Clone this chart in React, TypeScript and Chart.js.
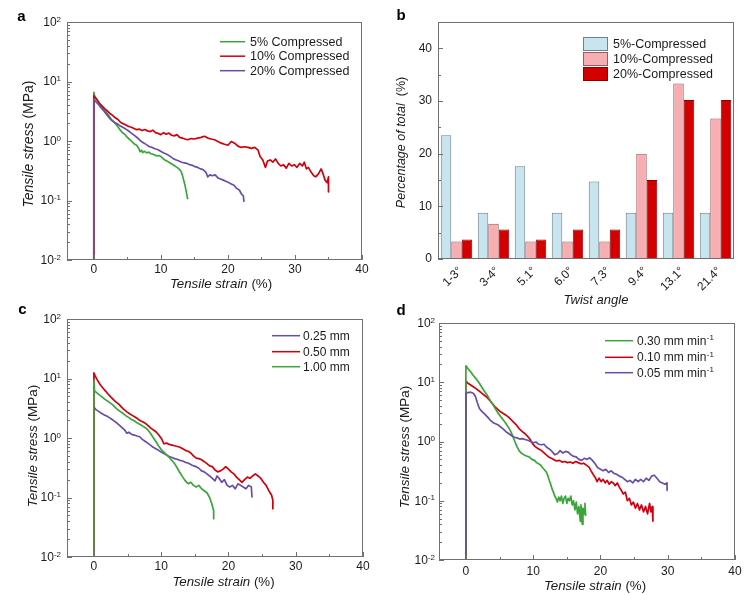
import React, { useEffect, useRef } from 'react';
import { Chart, registerables } from 'chart.js';

Chart.register(...registerables);

const FONT = '"Liberation Sans", Arial, Helvetica, sans-serif';
const TEXT = '#1b1b1b';
const AXIS = '#707070';
const GREEN = '#3aa63a';
const RED = '#d2000c';
const PURPLE = '#6a4ea6';

type Pt = [number, number];

// ---------- Panel a: compression ----------
const A_5: Pt[] = [[0,0.008],[0,6.6],[0.1,5.6],[0.3,5.3],[0.6,4.7],[1.0,4.1],[1.4,3.6],[1.8,3.1],[2.2,2.7],[2.6,2.3],[3.0,2.1],[3.4,1.85],[3.8,1.6],[4.2,1.4],[4.6,1.3],[5.0,1.15],[5.4,1.05],[5.8,0.95],[6.1,0.88],[6.4,0.85],[6.7,0.75],[6.9,0.66],[7.1,0.7],[7.3,0.64],[7.6,0.67],[7.9,0.63],[8.2,0.65],[8.5,0.61],[8.8,0.6],[9.1,0.58],[9.4,0.56],[9.7,0.57],[10.0,0.55],[10.3,0.51],[10.6,0.48],[10.9,0.46],[11.2,0.44],[11.5,0.42],[11.8,0.4],[12.1,0.38],[12.4,0.36],[12.7,0.34],[13.0,0.31],[13.2,0.27],[13.4,0.22],[13.6,0.18],[13.8,0.14],[14.0,0.105]];
const A_10: Pt[] = [[0,0.008],[0,5.8],[0.2,5.4],[0.5,4.9],[0.8,4.3],[1.2,3.9],[1.6,3.5],[2.0,3.2],[2.4,2.9],[2.8,2.7],[3.2,2.45],[3.6,2.3],[4.0,2.05],[4.4,1.95],[4.8,1.85],[5.2,1.75],[5.6,1.7],[6.0,1.62],[6.4,1.55],[6.8,1.58],[7.2,1.5],[7.6,1.56],[8.0,1.48],[8.4,1.44],[8.8,1.52],[9.2,1.38],[9.6,1.34],[10.0,1.28],[10.4,1.38],[10.8,1.3],[11.2,1.36],[11.6,1.25],[12.0,1.22],[12.4,1.28],[12.8,1.15],[13.2,1.12],[13.6,1.08],[14.0,1.05],[14.5,1.1],[15.0,1.08],[15.5,1.12],[16.0,1.15],[16.5,1.2],[17.0,1.12],[17.5,1.08],[18.0,1.05],[18.5,0.98],[19.0,0.92],[19.5,0.88],[20.0,0.85],[20.5,0.98],[21.0,0.92],[21.5,0.82],[22.0,0.78],[22.5,0.8],[23.0,0.78],[23.5,0.75],[24.0,0.78],[24.5,0.7],[24.8,0.55],[25.2,0.48],[25.6,0.36],[25.9,0.46],[26.3,0.48],[26.7,0.44],[27.1,0.5],[27.5,0.42],[27.9,0.38],[28.3,0.4],[28.7,0.35],[29.1,0.42],[29.5,0.38],[29.9,0.4],[30.3,0.36],[30.7,0.42],[31.1,0.38],[31.4,0.44],[31.7,0.34],[32.0,0.36],[32.4,0.3],[32.8,0.26],[33.1,0.25],[33.5,0.28],[33.9,0.34],[34.2,0.28],[34.5,0.22],[34.8,0.2],[35.0,0.25],[35.0,0.14]];
const A_20: Pt[] = [[0,0.008],[0,5.1],[0.3,4.6],[0.7,4.1],[1.1,3.6],[1.5,3.2],[1.9,2.8],[2.3,2.45],[2.7,2.2],[3.1,2.05],[3.5,1.95],[3.9,1.8],[4.3,1.7],[4.7,1.6],[5.1,1.5],[5.5,1.38],[5.9,1.28],[6.3,1.18],[6.7,1.08],[7.1,0.98],[7.5,0.92],[7.9,0.86],[8.3,0.8],[8.7,0.78],[9.1,0.74],[9.5,0.72],[9.9,0.68],[10.3,0.64],[10.7,0.61],[11.1,0.58],[11.5,0.54],[11.9,0.5],[12.3,0.48],[12.7,0.46],[13.1,0.44],[13.5,0.43],[13.9,0.42],[14.3,0.4],[14.7,0.39],[15.1,0.37],[15.5,0.36],[15.9,0.34],[16.3,0.33],[16.7,0.3],[17.0,0.25],[17.3,0.27],[17.7,0.26],[18.1,0.27],[18.5,0.24],[18.9,0.23],[19.3,0.22],[19.7,0.21],[20.1,0.2],[20.5,0.19],[20.9,0.18],[21.3,0.16],[21.7,0.15],[22.0,0.13],[22.3,0.12],[22.4,0.095]];

// ---------- Panel b: twist angle histogram ----------
const B_CATS = ['1-3°', '3-4°', '5.1°', '6.0°', '7.3°', '9.4°', '13.1°', '21.4°'];
const B_5 = [23.5, 8.8, 17.6, 8.8, 14.7, 8.8, 8.8, 8.8];
const B_10 = [3.3, 6.7, 3.3, 3.3, 3.3, 20.0, 33.3, 26.7];
const B_20 = [3.7, 5.6, 3.7, 5.6, 5.6, 15.0, 30.2, 30.2];
const B_Y_TICKS = [0, 10, 20, 30, 40];
const B_Y_MINOR = [5, 15, 25, 35];

// ---------- Panel c: thickness ----------
const C_025: Pt[] = [[0,0.008],[0,3.3],[0.3,3.0],[0.7,2.8],[1.1,2.6],[1.5,2.45],[1.9,2.35],[2.3,2.2],[2.7,2.05],[3.1,1.9],[3.5,1.75],[3.9,1.6],[4.3,1.45],[4.6,1.35],[4.9,1.2],[5.2,1.25],[5.6,1.15],[6.0,1.12],[6.4,1.08],[6.8,1.05],[7.2,0.95],[7.6,0.88],[8.0,0.82],[8.4,0.76],[8.8,0.7],[9.2,0.66],[9.6,0.62],[10.0,0.58],[10.4,0.55],[10.8,0.52],[11.2,0.49],[11.6,0.47],[12.0,0.45],[12.4,0.44],[12.8,0.42],[13.2,0.41],[13.6,0.39],[14.0,0.38],[14.4,0.36],[14.8,0.34],[15.2,0.33],[15.6,0.31],[16.0,0.28],[16.4,0.27],[16.8,0.25],[17.2,0.23],[17.6,0.21],[18.0,0.19],[18.3,0.23],[18.6,0.21],[19.0,0.18],[19.4,0.2],[19.8,0.16],[20.2,0.15],[20.6,0.16],[21.0,0.14],[21.4,0.17],[21.8,0.16],[22.2,0.15],[22.6,0.14],[23.0,0.16],[23.4,0.15],[23.5,0.1]];
const C_050: Pt[] = [[0,0.008],[0,12.5],[0.2,11.0],[0.5,9.5],[0.9,8.0],[1.3,7.0],[1.7,6.2],[2.1,5.5],[2.5,4.9],[2.9,4.4],[3.3,4.0],[3.7,3.7],[4.1,3.3],[4.5,3.0],[4.9,2.75],[5.3,2.55],[5.7,2.4],[6.1,2.25],[6.5,2.1],[6.9,1.95],[7.3,1.85],[7.7,1.75],[8.1,1.6],[8.5,1.45],[8.9,1.35],[9.3,1.25],[9.7,1.1],[10.1,0.95],[10.4,0.8],[10.8,0.82],[11.2,0.78],[11.6,0.76],[12.0,0.74],[12.4,0.72],[12.8,0.7],[13.2,0.66],[13.6,0.62],[14.0,0.6],[14.4,0.56],[14.8,0.5],[15.2,0.46],[15.6,0.45],[16.0,0.43],[16.4,0.4],[16.8,0.37],[17.2,0.34],[17.6,0.33],[18.0,0.29],[18.4,0.27],[18.8,0.28],[19.2,0.3],[19.6,0.33],[20.0,0.3],[20.4,0.27],[20.8,0.25],[21.2,0.22],[21.6,0.2],[22.0,0.18],[22.4,0.2],[22.8,0.22],[23.2,0.21],[23.6,0.23],[24.0,0.25],[24.4,0.23],[24.8,0.21],[25.2,0.18],[25.6,0.16],[26.0,0.13],[26.4,0.11],[26.6,0.09],[26.6,0.065]];
const C_100: Pt[] = [[0,0.008],[0,9.2],[0.1,6.2],[0.4,5.8],[0.8,5.3],[1.2,4.9],[1.6,4.5],[2.0,4.2],[2.4,3.9],[2.8,3.6],[3.2,3.25],[3.6,2.95],[4.0,2.75],[4.4,2.55],[4.8,2.35],[5.2,2.2],[5.6,2.05],[6.0,1.95],[6.4,1.8],[6.8,1.7],[7.2,1.6],[7.6,1.5],[8.0,1.38],[8.4,1.2],[8.8,1.02],[9.2,0.88],[9.6,0.74],[10.0,0.64],[10.4,0.58],[10.8,0.52],[11.2,0.47],[11.6,0.42],[12.0,0.37],[12.4,0.31],[12.8,0.26],[13.2,0.22],[13.6,0.19],[14.0,0.17],[14.4,0.18],[14.8,0.16],[15.2,0.15],[15.6,0.16],[16.0,0.14],[16.4,0.13],[16.8,0.12],[17.2,0.1],[17.5,0.08],[17.8,0.06],[17.8,0.044]];

// ---------- Panel d: strain rate ----------
const D_030: Pt[] = [[0,0.008],[0,19],[0.3,17],[0.7,15],[1.1,13],[1.5,11.5],[1.9,10],[2.3,8.5],[2.7,7.2],[3.1,6.2],[3.5,5.2],[3.9,4.4],[4.3,3.7],[4.7,3.1],[5.1,2.7],[5.5,2.35],[5.9,2.05],[6.3,1.75],[6.7,1.45],[7.0,1.2],[7.3,0.98],[7.6,0.82],[7.9,0.7],[8.2,0.64],[8.6,0.6],[9.0,0.57],[9.4,0.55],[9.8,0.5],[10.2,0.48],[10.5,0.44],[10.8,0.42],[11.1,0.4],[11.4,0.36],[11.7,0.33],[12.0,0.3],[12.2,0.26],[12.4,0.22],[12.6,0.19],[12.8,0.16],[13.0,0.14],[13.2,0.12],[13.4,0.11],[13.6,0.095],[13.8,0.115],[14.0,0.1],[14.2,0.12],[14.4,0.09],[14.6,0.11],[14.8,0.12],[15.0,0.09],[15.2,0.11],[15.4,0.1],[15.6,0.12],[15.8,0.085],[16.0,0.1],[16.2,0.07],[16.4,0.095],[16.6,0.06],[16.8,0.08],[17.0,0.045],[17.1,0.085],[17.3,0.04],[17.4,0.075],[17.6,0.06],[17.7,0.09],[17.8,0.055]];
const D_010: Pt[] = [[0,0.008],[0,10.5],[0.3,9.6],[0.7,9.0],[1.1,8.4],[1.5,7.8],[1.9,7.2],[2.3,6.6],[2.7,6.1],[3.1,5.6],[3.5,5.0],[3.9,4.4],[4.3,3.9],[4.7,3.5],[5.1,3.2],[5.5,3.0],[5.9,2.8],[6.3,2.6],[6.7,2.35],[7.1,2.1],[7.5,1.9],[7.9,1.65],[8.3,1.5],[8.7,1.38],[9.1,1.25],[9.5,1.1],[9.9,0.92],[10.3,0.82],[10.7,0.76],[11.1,0.72],[11.5,0.66],[11.9,0.6],[12.3,0.55],[12.7,0.52],[13.1,0.49],[13.5,0.47],[13.9,0.48],[14.3,0.45],[14.7,0.46],[15.1,0.44],[15.5,0.45],[15.9,0.43],[16.3,0.46],[16.7,0.44],[17.1,0.42],[17.5,0.43],[17.9,0.4],[18.3,0.37],[18.6,0.32],[18.9,0.28],[19.2,0.25],[19.5,0.21],[19.8,0.24],[20.1,0.21],[20.4,0.23],[20.7,0.2],[21.0,0.22],[21.3,0.19],[21.6,0.21],[21.9,0.2],[22.2,0.18],[22.5,0.2],[22.8,0.17],[23.1,0.15],[23.4,0.13],[23.7,0.14],[24.0,0.1],[24.3,0.11],[24.6,0.085],[24.9,0.095],[25.2,0.075],[25.5,0.09],[25.8,0.07],[26.1,0.085],[26.4,0.065],[26.7,0.08],[27.0,0.06],[27.3,0.09],[27.5,0.065],[27.7,0.08],[27.8,0.045]];
const D_005: Pt[] = [[0,0.008],[0,6.5],[0.3,6.7],[0.7,6.8],[1.1,6.5],[1.4,5.8],[1.7,4.5],[2.0,3.6],[2.4,3.2],[2.8,2.9],[3.2,2.6],[3.6,2.3],[4.0,2.1],[4.4,2.0],[4.8,1.9],[5.2,1.75],[5.6,1.6],[6.0,1.45],[6.4,1.35],[6.8,1.25],[7.2,1.18],[7.6,1.15],[8.0,1.1],[8.4,1.12],[8.8,1.08],[9.2,1.05],[9.6,1.0],[10.0,0.95],[10.4,0.98],[10.8,0.9],[11.2,0.88],[11.6,0.9],[12.0,0.8],[12.4,0.75],[12.8,0.68],[13.2,0.6],[13.6,0.62],[14.0,0.7],[14.4,0.64],[14.8,0.68],[15.2,0.66],[15.6,0.6],[16.0,0.56],[16.4,0.55],[16.8,0.5],[17.2,0.48],[17.6,0.52],[18.0,0.5],[18.4,0.53],[18.8,0.48],[19.2,0.42],[19.6,0.36],[20.0,0.34],[20.4,0.32],[20.8,0.34],[21.2,0.3],[21.6,0.32],[22.0,0.29],[22.4,0.28],[22.8,0.26],[23.2,0.25],[23.6,0.23],[24.0,0.21],[24.4,0.22],[24.8,0.2],[25.2,0.23],[25.6,0.21],[26.0,0.23],[26.4,0.21],[26.8,0.24],[27.2,0.22],[27.6,0.26],[28.0,0.27],[28.4,0.24],[28.8,0.21],[29.2,0.2],[29.6,0.19],[29.9,0.2],[29.9,0.15]];

// ---------- shared axis ticks ----------
const X_LABELS = [0, 10, 20, 30, 40];
const X_MINOR = [5, 15, 25, 35];
const LOG_MAJOR = [0.01, 0.1, 1, 10, 100];
const LOG_EXP = ['-2', '-1', '0', '1', '2'];

type LegendItem = { label: string; sup?: string; color: string };
type Area = { left: number; top: number; right: number; bottom: number };
type Decor = {
  log: boolean;
  letter: [string, number, number];
  xTitle: [string, string, number, number, number];
  yTitle: [string, string, number, number, number];
  xTickY: number;
  yTickRight: number;
  lineLegend?: { x1: number; x2: number; tx: number; ys: number[]; size: number; items: LegendItem[] };
  boxLegend?: { x: number; w: number; tops: number[]; h: number; tx: number; size: number; items: { label: string; fill: string; stroke: string }[] };
};

function drawTitle(ctx: CanvasRenderingContext2D, it: string, nm: string, cx: number, cy: number, size: number, rot: boolean) {
  ctx.save();
  ctx.translate(cx, cy);
  if (rot) ctx.rotate(-Math.PI / 2);
  const fi = `italic ${size}px ${FONT}`;
  const fn = `${size}px ${FONT}`;
  ctx.font = fi;
  const w1 = ctx.measureText(it).width;
  ctx.font = fn;
  const w2 = ctx.measureText(nm).width;
  const x0 = -(w1 + w2) / 2;
  ctx.textAlign = 'left';
  ctx.textBaseline = 'middle';
  ctx.fillStyle = TEXT;
  ctx.font = fi;
  ctx.fillText(it, x0, 0);
  ctx.font = fn;
  ctx.fillText(nm, x0 + w1, 0);
  ctx.restore();
}

function makeDecor(d: Decor) {
  return {
    id: 'decor',
    afterDraw(chart: any) {
      const ctx = chart.ctx as CanvasRenderingContext2D;
      const { left, top, right, bottom } = chart.chartArea;
      const xs = chart.scales.x;
      const ys = chart.scales.y;
      ctx.save();
      ctx.strokeStyle = AXIS;
      ctx.lineWidth = 1;
      ctx.strokeRect(left + 0.5, top + 0.5, right - left - 1, bottom - top - 1);
      const vline = (x: number, y1: number, y2: number) => { ctx.beginPath(); ctx.moveTo(x, y1); ctx.lineTo(x, y2); ctx.stroke(); };
      const hline = (x1: number, x2: number, y: number) => { ctx.beginPath(); ctx.moveTo(x1, y); ctx.lineTo(x2, y); ctx.stroke(); };
      ctx.fillStyle = TEXT;
      if (d.log) {
        for (const v of X_LABELS) { const px = Math.round(xs.getPixelForValue(v)) + 0.5; vline(px, bottom, bottom - 5); }
        for (const v of X_MINOR) { const px = Math.round(xs.getPixelForValue(v)) + 0.5; vline(px, bottom, bottom - 3); }
        for (const v of LOG_MAJOR) { const py = Math.round(ys.getPixelForValue(v)) + 0.5; hline(left, left + 5, py); }
        for (let k = 0; k < LOG_MAJOR.length - 1; k++) {
          for (let m = 2; m <= 9; m++) {
            const py = Math.round(ys.getPixelForValue(LOG_MAJOR[k] * m)) + 0.5;
            hline(left, left + 3, py);
          }
        }
        ctx.font = `12px ${FONT}`;
        ctx.textAlign = 'center';
        ctx.textBaseline = 'middle';
        for (const v of X_LABELS) ctx.fillText(String(v), xs.getPixelForValue(v), d.xTickY);
        LOG_MAJOR.forEach((v, i) => {
          const py = ys.getPixelForValue(v);
          const e = LOG_EXP[i];
          ctx.font = `8px ${FONT}`;
          const ew = ctx.measureText(e).width;
          ctx.textAlign = 'right';
          ctx.textBaseline = 'alphabetic';
          ctx.fillText(e, d.yTickRight, py - 0.5);
          ctx.font = `12px ${FONT}`;
          ctx.textBaseline = 'middle';
          ctx.fillText('10', d.yTickRight - ew, py + 0.5);
        });
      } else {
        for (const v of B_Y_TICKS) { const py = Math.round(ys.getPixelForValue(v)) + 0.5; hline(left, left + 5, py); }
        for (const v of B_Y_MINOR) { const py = Math.round(ys.getPixelForValue(v)) + 0.5; hline(left, left + 3, py); }
        ctx.font = `12px ${FONT}`;
        ctx.textAlign = 'right';
        ctx.textBaseline = 'middle';
        for (const v of B_Y_TICKS) ctx.fillText(String(v), d.yTickRight, ys.getPixelForValue(v));
        B_CATS.forEach((c, i) => {
          const px = xs.getPixelForValue(i);
          ctx.save();
          ctx.translate(px + 4, bottom + 10);
          ctx.rotate(-Math.PI / 4);
          ctx.fillText(c, 0, 0);
          ctx.restore();
        });
      }
      drawTitle(ctx, d.xTitle[0], d.xTitle[1], d.xTitle[2], d.xTitle[3], d.xTitle[4], false);
      drawTitle(ctx, d.yTitle[0], d.yTitle[1], d.yTitle[2], d.yTitle[3], d.yTitle[4], true);
      ctx.font = `bold 15px ${FONT}`;
      ctx.textAlign = 'center';
      ctx.textBaseline = 'middle';
      ctx.fillStyle = '#000';
      ctx.fillText(d.letter[0], d.letter[1], d.letter[2]);
      if (d.lineLegend) {
        const L = d.lineLegend;
        L.items.forEach((it, i) => {
          const y = L.ys[i];
          ctx.strokeStyle = it.color;
          ctx.lineWidth = 1.5;
          hline(L.x1, L.x2, y);
          ctx.fillStyle = TEXT;
          ctx.font = `${L.size}px ${FONT}`;
          ctx.textAlign = 'left';
          ctx.textBaseline = 'middle';
          ctx.fillText(it.label, L.tx, y + 0.5);
          if (it.sup) {
            const w = ctx.measureText(it.label).width;
            ctx.font = `8px ${FONT}`;
            ctx.textBaseline = 'alphabetic';
            ctx.fillText(it.sup, L.tx + w + 0.5, y - 0.5);
          }
        });
      }
      if (d.boxLegend) {
        const B = d.boxLegend;
        B.items.forEach((it, i) => {
          const t = B.tops[i];
          ctx.fillStyle = it.fill;
          ctx.fillRect(B.x, t, B.w, B.h);
          ctx.strokeStyle = it.stroke;
          ctx.lineWidth = 1;
          ctx.strokeRect(B.x + 0.5, t + 0.5, B.w - 1, B.h - 1);
          ctx.fillStyle = TEXT;
          ctx.font = `${B.size}px ${FONT}`;
          ctx.textAlign = 'left';
          ctx.textBaseline = 'middle';
          ctx.fillText(it.label, B.tx, t + B.h / 2 + 0.5);
        });
      }
      ctx.restore();
    },
  };
}

type Series = { data: Pt[]; color: string; order: number };

function lineConfig(series: Series[], W: number, H: number, area: Area, decor: Decor): any {
  return {
    type: 'line',
    data: {
      datasets: series.map((s) => ({
        data: s.data.map(([x, y]) => ({ x, y })),
        borderColor: s.color,
        borderWidth: 1.7,
        pointRadius: 0,
        tension: 0,
        fill: false,
        order: s.order,
        borderJoinStyle: 'round',
      })),
    },
    options: {
      responsive: false,
      animation: false,
      devicePixelRatio: 1,
      events: [],
      layout: { padding: { left: 0, top: area.top, right: W - area.right, bottom: 0 } },
      plugins: { legend: { display: false }, tooltip: { enabled: false } },
      scales: {
        x: {
          type: 'linear', min: -4, max: 40,
          ticks: { display: false }, grid: { display: false }, border: { display: false },
          afterFit: (s: any) => { s.height = H - area.bottom; },
        },
        y: {
          type: 'logarithmic', min: 0.01, max: 100,
          ticks: { display: false }, grid: { display: false }, border: { display: false },
          afterFit: (s: any) => { s.width = area.left; },
        },
      },
    },
    plugins: [makeDecor(decor)],
  };
}

function barConfig(W: number, H: number, area: Area, decor: Decor): any {
  const ds = (data: number[], fill: string, stroke: string) => ({
    data, backgroundColor: fill, borderColor: stroke, borderWidth: 1,
    categoryPercentage: 0.85, barPercentage: 1,
  });
  return {
    type: 'bar',
    data: {
      labels: B_CATS,
      datasets: [
        ds(B_5, '#c7e4ef', '#6f8189'),
        ds(B_10, '#f6aeb3', '#a0585d'),
        ds(B_20, '#d40000', '#8e0000'),
      ],
    },
    options: {
      responsive: false,
      animation: false,
      devicePixelRatio: 1,
      events: [],
      layout: { padding: { left: 0, top: area.top, right: W - area.right, bottom: 0 } },
      plugins: { legend: { display: false }, tooltip: { enabled: false } },
      scales: {
        x: {
          type: 'category',
          ticks: { display: false }, grid: { display: false }, border: { display: false },
          afterFit: (s: any) => { s.height = H - area.bottom; },
        },
        y: {
          type: 'linear', min: 0, max: 45,
          ticks: { display: false }, grid: { display: false }, border: { display: false },
          afterFit: (s: any) => { s.width = area.left; },
        },
      },
    },
    plugins: [makeDecor(decor)],
  };
}

function Panel({ left, top, width, height, build }: { left: number; top: number; width: number; height: number; build: () => any }) {
  const ref = useRef<HTMLCanvasElement>(null);
  useEffect(() => {
    const chart = new Chart(ref.current as HTMLCanvasElement, build());
    return () => chart.destroy();
  }, []);
  return (
    <canvas
      ref={ref}
      width={width}
      height={height}
      style={{ position: 'absolute', left, top, width, height }}
    />
  );
}

export default function App() {
  const aArea = { left: 67, top: 22, right: 362, bottom: 260 };
  const bArea = { left: 63, top: 22, right: 359, bottom: 259 };
  const cArea = { left: 67, top: 22, right: 363, bottom: 260 };
  const dArea = { left: 64, top: 23, right: 360, bottom: 260 };

  const decorA: Decor = {
    log: true,
    letter: ['a', 21.5, 16.5],
    xTitle: ['Tensile strain ', '(%)', 221, 284, 13.3],
    yTitle: ['Tensile stress ', '(MPa)', 29, 144, 14],
    xTickY: 270,
    yTickRight: 61,
    lineLegend: {
      x1: 220, x2: 245, tx: 250, ys: [41.7, 56.2, 70.7], size: 12.5,
      items: [
        { label: '5% Compressed', color: GREEN },
        { label: '10% Compressed', color: RED },
        { label: '20% Compressed', color: PURPLE },
      ],
    },
  };
  const decorB: Decor = {
    log: false,
    letter: ['b', 26, 16],
    xTitle: ['Twist angle', '', 221, 300, 13],
    yTitle: ['Percentage of total  ', '(%)', 27, 142.5, 12.5],
    xTickY: 0,
    yTickRight: 57,
    boxLegend: {
      x: 208, w: 25, tops: [37, 52, 67], h: 14, tx: 238, size: 12.5,
      items: [
        { label: '5%-Compressed', fill: '#c7e4ef', stroke: '#6f8189' },
        { label: '10%-Compressed', fill: '#f6aeb3', stroke: '#a0585d' },
        { label: '20%-Compressed', fill: '#d40000', stroke: '#8e0000' },
      ],
    },
  };
  const decorC: Decor = {
    log: true,
    letter: ['c', 22.5, 13],
    xTitle: ['Tensile strain ', '(%)', 223.5, 285.7, 13.3],
    yTitle: ['Tensile stress ', '(MPa)', 33, 149, 13.5],
    xTickY: 269.7,
    yTickRight: 61,
    lineLegend: {
      x1: 272, x2: 300, tx: 303, ys: [38.7, 54.7, 69.7], size: 12,
      items: [
        { label: '0.25 mm', color: PURPLE },
        { label: '0.50 mm', color: RED },
        { label: '1.00 mm', color: GREEN },
      ],
    },
  };
  const decorD: Decor = {
    log: true,
    letter: ['d', 26, 11],
    xTitle: ['Tensile strain ', '(%)', 220, 286, 13.3],
    yTitle: ['Tensile stress ', '(MPa)', 30, 147, 13.5],
    xTickY: 271.7,
    yTickRight: 60,
    lineLegend: {
      x1: 230, x2: 258, tx: 262, ys: [40.7, 57.3, 72.7], size: 12,
      items: [
        { label: '0.30 mm min', sup: '-1', color: GREEN },
        { label: '0.10 mm min', sup: '-1', color: RED },
        { label: '0.05 mm min', sup: '-1', color: PURPLE },
      ],
    },
  };

  return (
    <div style={{ position: 'absolute', left: 0, top: 0, width: 749, height: 595, background: '#fff', fontFamily: FONT }}>
      <Panel left={0} top={0} width={375} height={297}
        build={() => lineConfig([
          { data: A_5, color: GREEN, order: 2 },
          { data: A_10, color: RED, order: 1 },
          { data: A_20, color: PURPLE, order: 0 },
        ], 375, 297, aArea, decorA)} />
      <Panel left={375} top={0} width={374} height={310}
        build={() => barConfig(374, 310, bArea, decorB)} />
      <Panel left={0} top={297} width={375} height={298}
        build={() => lineConfig([
          { data: C_025, color: PURPLE, order: 2 },
          { data: C_050, color: RED, order: 1 },
          { data: C_100, color: GREEN, order: 0 },
        ], 375, 298, cArea, decorC)} />
      <Panel left={375} top={300} width={374} height={295}
        build={() => lineConfig([
          { data: D_030, color: GREEN, order: 1 },
          { data: D_010, color: RED, order: 2 },
          { data: D_005, color: PURPLE, order: 0 },
        ], 374, 295, dArea, decorD)} />
    </div>
  );
}
